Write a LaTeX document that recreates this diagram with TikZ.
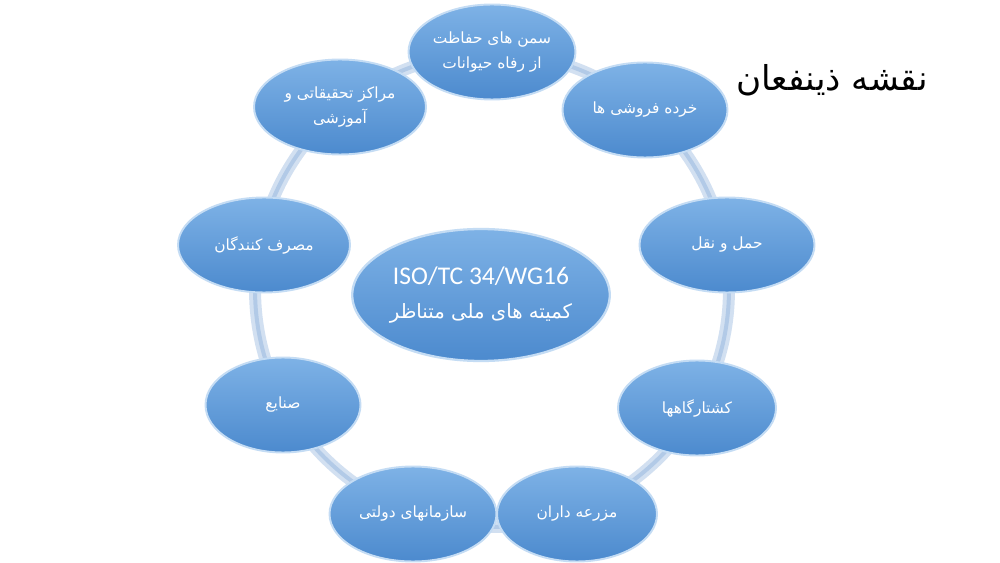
\documentclass[tikz,border=0pt]{standalone}
\usepackage{fontspec}
\setmainfont{Carlito}
\newfontfamily\fa[Script=Arabic]{DejaVu Sans}
\TeXXeTstate=1
\usetikzlibrary{shapes.geometric}
\definecolor{elTop}{RGB}{126,178,230}
\definecolor{elBot}{RGB}{76,138,206}
\definecolor{elEdge}{RGB}{196,220,244}
\definecolor{ringA}{RGB}{210,224,241}
\definecolor{ringB}{RGB}{178,202,231}
\tikzset{
  stake/.style={ellipse, minimum width=#1, minimum height=1.9cm, inner sep=0pt,
    top color=elTop, bottom color=elBot, draw=elEdge, line width=1.1pt,
    text=white, align=center, font=\fa\fontsize{8.8}{14}\selectfont},
  hub/.style={ellipse, minimum width=4.76cm, minimum height=2.64cm, inner sep=0pt,
    top color=elTop, bottom color=elBot, draw=elEdge, line width=1.3pt,
    text=white, align=center, font=\fontsize{14.5}{19}\selectfont},
  ringline/.style={draw=ringA, line width=0.24cm},
  ringcore/.style={draw=ringB, line width=0.08cm},
  titletext/.style={text=black, font=\fa\fontsize{19.5}{24}\selectfont}
}
\begin{document}
\begin{tikzpicture}[x=0.02cm, y=-0.02cm]
\useasboundingbox (0,0) rectangle (1000,563);
\fill[white] (0,0) rectangle (1000,563);
% ring
\coordinate (rc) at (492,290);
\draw[ringline] (rc) circle [radius=4.74cm];
\draw[ringcore] (rc) circle [radius=4.74cm];
% stakeholders
\node[stake=3.44cm] (res) at (340,107) {\beginR مراکز تحقیقاتی و\endR\\\beginR آموزشی\endR};
\node[stake=3.44cm] (con) at (264,245) {\beginR مصرف کنندگان\endR};
\node[stake=3.1cm] (ind) at (283,405) {\beginR صنایع\endR};
\node[stake=3.2cm] (far) at (577,514) {\beginR مزرعه داران\endR};
\node[stake=3.34cm] (gov) at (413,514) {\beginR سازمانهای دولتی\endR};
\node[stake=3.16cm] (sla) at (697,408) {\beginR کشتارگاهها\endR};
\node[stake=3.5cm] (tra) at (727,245) {\beginR حمل و نقل\endR};
\node[stake=3.3cm] (ret) at (645,110) {\beginR خرده فروشی ها\endR};
\node[stake=3.2cm] (ngo) at (492,52) {\beginR سمن های حفاظت\endR\\\beginR از رفاه حیوانات\endR};
% hub
\node[hub] (hubn) at (481,295) {ISO/TC 34/WG16\\{\fa\fontsize{11.2}{19}\selectfont\beginR کمیته های ملی متناظر\endR}};
% title
\node[titletext] (title) at (832,80) {\beginR نقشه ذینفعان\endR};
\end{tikzpicture}
\end{document}
